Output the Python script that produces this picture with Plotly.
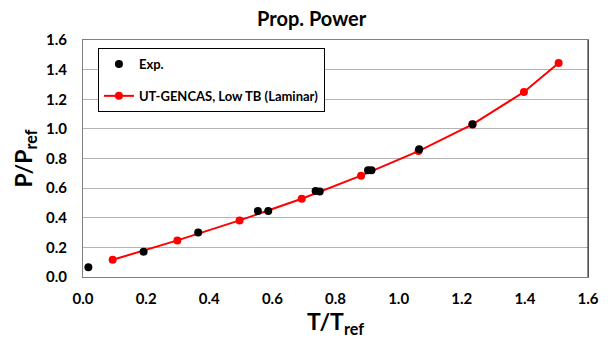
import plotly.graph_objects as go

# Data
exp_x = [0.017, 0.192, 0.365, 0.554, 0.587, 0.737, 0.750, 0.903, 0.914, 1.065, 1.234]
exp_y = [0.066, 0.170, 0.300, 0.445, 0.445, 0.580, 0.578, 0.720, 0.720, 0.863, 1.032]
cfd_x = [0.094, 0.299, 0.496, 0.693, 0.881, 1.063, 1.234, 1.397, 1.507]
cfd_y = [0.116, 0.247, 0.382, 0.528, 0.684, 0.850, 1.030, 1.249, 1.445]

FONT = "Lato"

fig = go.Figure()
fig.add_trace(go.Scatter(
    x=cfd_x, y=cfd_y, mode="lines+markers",
    name="UT-GENCAS, Low TB (Laminar)",
    line=dict(color="#ff0000", width=2),
    marker=dict(color="#ff0000", size=8),
    legendgroup="b", legendrank=2,
))
fig.add_trace(go.Scatter(
    x=exp_x, y=exp_y, mode="markers", name="Exp.",
    marker=dict(color="#000000", size=8),
    legendgroup="a", legendrank=1,
))

fig.update_layout(
    width=611, height=338,
    margin=dict(l=83, r=21, t=40, b=61),
    paper_bgcolor="white", plot_bgcolor="white",
    font=dict(family=FONT, color="black"),
    title=dict(text="<b>Prop. Power</b>", x=0.51, xref="container", xanchor="center",
               y=1 - 19 / 338, yref="container", yanchor="middle",
               font=dict(size=20, family=FONT, color="black")),
    legend=dict(x=(98 - 83) / 507, y=1 - (48 - 40) / 237, xanchor="left", yanchor="top",
                bordercolor="black", borderwidth=1, bgcolor="white",
                font=dict(size=13, family=FONT, color="black", weight="bold"),
                traceorder="grouped", tracegroupgap=12, itemwidth=30),
    showlegend=True,
)

fig.update_xaxes(
    range=[0, 1.6], dtick=0.2, tick0=0, tickformat=".1f",
    showgrid=False, zeroline=False,
    showline=True, linecolor="#808080", linewidth=1, mirror=True,
    ticks="outside", ticklen=8, tickcolor="rgba(0,0,0,0)",
    tickfont=dict(size=15, family=FONT, color="black", weight="bold"),
    title=dict(text="<b>T/T<sub>ref</sub></b>", font=dict(size=23, family=FONT, color="black"),
               standoff=3),
)
fig.update_yaxes(
    range=[0, 1.6], dtick=0.2, tick0=0, tickformat=".1f",
    showgrid=True, gridcolor="#b4b4b4", gridwidth=1, zeroline=False,
    showline=True, linecolor="#808080", linewidth=1, mirror=True,
    ticks="outside", ticklen=12, tickcolor="rgba(0,0,0,0)",
    tickfont=dict(size=15, family=FONT, color="black", weight="bold"),
    title=dict(text="<b>P/P<sub>ref</sub></b>", font=dict(size=23, family=FONT, color="black"),
               standoff=6),
)

# darker right edge of the plot frame
fig.add_shape(type="line", xref="paper", yref="paper", x0=1, x1=1, y0=0, y1=1,
              line=dict(color="#202020", width=1))

fig.write_html("out.html")
